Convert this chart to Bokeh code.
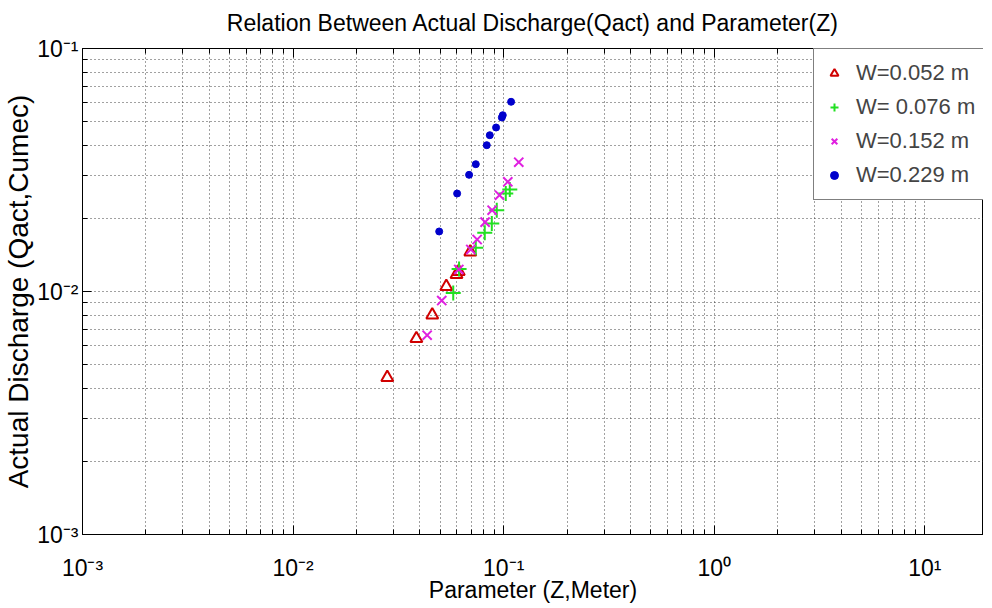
from bokeh.plotting import figure
from bokeh.models import (LogAxis, FixedTicker, CustomJSTickFormatter, Range1d, Legend, LegendItem)
from bokeh.embed import file_html
from bokeh.resources import INLINE

# ---- data ----
w052_z = [0.0280, 0.0385, 0.0458, 0.0534, 0.0597, 0.0612, 0.0694]
w052_q = [0.00443, 0.00640, 0.00801, 0.01049, 0.01175, 0.01209, 0.01454]

w076_z = [0.0576, 0.0614, 0.0737, 0.0813, 0.0878, 0.0927, 0.1023, 0.1069]
w076_q = [0.00986, 0.01238, 0.01513, 0.01744, 0.01905, 0.02161, 0.02531, 0.02629]

w152_z = [0.0433, 0.0508, 0.0612, 0.0698, 0.0748, 0.0816, 0.0881, 0.0955, 0.1046, 0.1179]
w152_q = [0.00661, 0.00918, 0.01232, 0.01489, 0.01637, 0.01929, 0.02161, 0.02490, 0.02828, 0.03404]

w229_z = [0.0494, 0.0601, 0.0685, 0.0737, 0.0831, 0.0859, 0.0920, 0.0980, 0.0990, 0.1084]
w229_q = [0.01766, 0.02531, 0.03021, 0.03341, 0.04000, 0.04397, 0.04730, 0.05200, 0.05315, 0.06035]

labels = ["W=0.052 m", "W= 0.076 m", "W=0.152 m", "W=0.229 m"]

x_decades = [1e-3, 1e-2, 1e-1, 1e0, 1e1]
y_decades = [1e-3, 1e-2, 1e-1]

title_text = "Relation Between Actual Discharge(Qact) and Parameter(Z)"

FONT = "Liberation Sans"
FW, FH = 901, 486

def minors(decs, upper):
    out = []
    for d in decs:
        for k in range(2, 10):
            v = d * k
            if v <= upper:
                out.append(v)
    return out

p = figure(x_axis_type="log", y_axis_type="log",
           x_range=Range1d(1e-3, 18.98), y_range=Range1d(1e-3, 1e-1),
           frame_width=FW, frame_height=FH,
           min_border_left=75, min_border_right=0, min_border_top=48, min_border_bottom=65,
           output_backend="svg", toolbar_location=None,
           background_fill_color="white", border_fill_color="white")

sup = """
const m = {'-':'\u207b','0':'\u2070','1':'\u00b9','2':'\u00b2','3':'\u00b3','4':'\u2074','5':'\u2075','6':'\u2076','7':'\u2077','8':'\u2078','9':'\u2079'};
const e = Math.round(Math.log10(tick));
return '10' + String(e).split('').map(c => m[c]).join('');
"""
fmt = CustomJSTickFormatter(code=sup)

xt = FixedTicker(ticks=x_decades, minor_ticks=minors(x_decades, 20))
yt = FixedTicker(ticks=y_decades, minor_ticks=minors(y_decades, 0.1))

p.xaxis.ticker = xt
p.yaxis.ticker = yt
p.xaxis.formatter = fmt
p.yaxis.formatter = fmt

for ax in (p.xaxis[0], p.yaxis[0]):
    ax.major_label_text_font = FONT
    ax.major_label_text_font_size = "23px"
    ax.major_label_text_color = "black"
    ax.axis_label_text_font = FONT
    ax.axis_label_text_font_style = "normal"
    ax.axis_label_text_color = "black"
    ax.axis_line_color = "black"
    ax.major_tick_line_color = "black"
    ax.minor_tick_line_color = "black"
    ax.major_tick_in = 9
    ax.major_tick_out = 0
    ax.minor_tick_in = 5
    ax.minor_tick_out = 0

p.xaxis.axis_label = "Parameter (Z,Meter)"
p.xaxis.axis_label_text_font_size = "23px"
p.xaxis.major_label_standoff = 20
p.xaxis.axis_label_standoff = -7
p.yaxis.axis_label = "Actual Discharge (Qact,Cumec)"
p.yaxis.axis_label_text_font_size = "28px"
p.yaxis.major_label_standoff = 4
p.yaxis.axis_label_standoff = 0

# top axis: ticks only, carries the chart title as its label
top = LogAxis(ticker=xt, major_label_text_font_size="2px", major_label_text_alpha=0,
              axis_line_color="black", major_tick_line_color="black", minor_tick_line_color="black",
              major_tick_in=9, major_tick_out=0, minor_tick_in=5, minor_tick_out=0,
              major_label_standoff=0,
              axis_label=title_text, axis_label_text_font=FONT, axis_label_text_font_size="23px",
              axis_label_text_font_style="normal", axis_label_text_color="black",
              axis_label_standoff=13)
p.add_layout(top, "above")

for g in (p.xgrid[0], p.ygrid[0]):
    g.grid_line_color = "#222222"
    g.grid_line_dash = "1 3"
    g.grid_line_width = 1
    g.grid_line_alpha = 0.85
    g.minor_grid_line_color = "#222222"
    g.minor_grid_line_dash = "1 3"
    g.minor_grid_line_width = 1
    g.minor_grid_line_alpha = 0.85

p.outline_line_color = "black"
p.outline_line_width = 1

r1 = p.scatter(w052_z, w052_q, marker="triangle", size=12, fill_color=None,
               line_color="#d00000", line_width=2)
r2 = p.scatter(w076_z, w076_q, marker="cross", size=15,
               line_color="#22e022", line_width=2)
r3 = p.scatter(w152_z, w152_q, marker="x", size=13,
               line_color="#e020e0", line_width=2)
r4 = p.scatter(w229_z, w229_q, marker="circle", size=7,
               fill_color="#0000cc", line_color="#0000cc")

legend = Legend(items=[LegendItem(label=l, renderers=[r]) for l, r in zip(labels, [r1, r2, r3, r4])],
                location=(731, 334), padding=10, spacing=6,
                label_text_font=FONT, label_text_font_size="22px",
                label_height=28, glyph_height=28, glyph_width=20, label_standoff=12,
                border_line_color="black", border_line_width=1,
                background_fill_color="white", background_fill_alpha=1)
p.add_layout(legend)

open("out.html", "w").write(file_html(p, INLINE))
